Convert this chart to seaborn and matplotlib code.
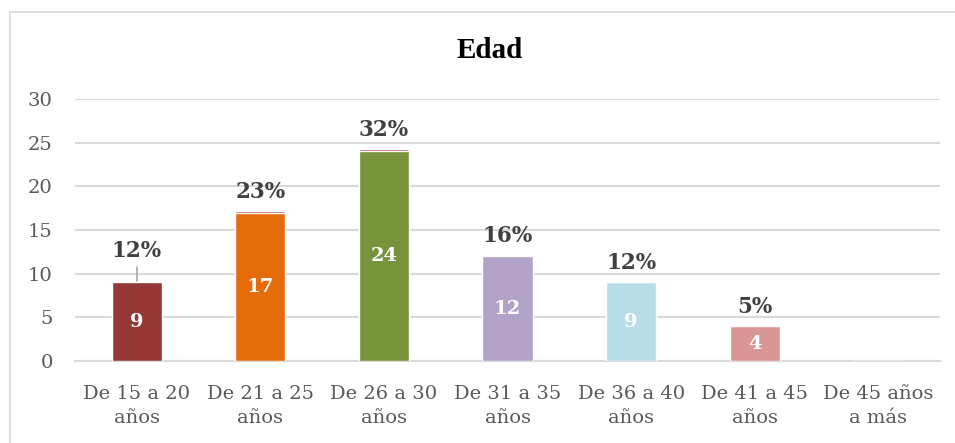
import matplotlib
matplotlib.use("Agg")
import matplotlib.pyplot as plt
from matplotlib.lines import Line2D
import seaborn as sns
import numpy as np
import pandas as pd

categories = ["De 15 a 20\naños", "De 21 a 25\naños", "De 26 a 30\naños", "De 31 a 35\naños",
              "De 36 a 40\naños", "De 41 a 45\naños", "De 45 años\na más"]
counts = [9, 17, 24, 12, 9, 4, 0]
percents = [0.12, 0.23, 0.32, 0.16, 0.12, 0.05, 0.0]
pct_labels = ["12%", "23%", "32%", "16%", "12%", "5%", ""]
bar_colors = ["#953735", "#E46C0A", "#77933C", "#B3A2C7", "#B7DEE8", "#D99694", "#4F81BD"]
yticks = [0, 5, 10, 15, 20, 25, 30]

sns.set_theme(style="white")
plt.rcParams["font.family"] = ["DejaVu Serif", "Liberation Serif"]

df = pd.DataFrame({"cat": categories, "count": counts, "pct": percents})
df["total"] = df["count"] + df["pct"]

fig = plt.figure(figsize=(9.55, 4.43), dpi=100)
ax = fig.add_axes([75/955, 1-361/443, (940-75)/955, (361-99)/443])

sns.barplot(data=df, x="cat", y="total", color="#C0504D", width=0.405, ax=ax,
            saturation=1, zorder=3)
sns.barplot(data=df, x="cat", y="count", hue="cat", palette=bar_colors, width=0.405,
            ax=ax, saturation=1, legend=False, zorder=3)

ax.set_ylim(0, 30)
ax.set_xlim(-0.5, len(categories)-0.5)
ax.set_yticks(yticks)
ax.set_yticklabels([str(v) for v in yticks])
ax.yaxis.grid(True, color="#D9D9D9", linewidth=1.5, zorder=0)
ax.set_axisbelow(True)
for s in ["top", "right", "left"]:
    ax.spines[s].set_visible(False)
ax.spines["bottom"].set_color("#D9D9D9")
ax.spines["bottom"].set_linewidth(1.5)
ax.tick_params(axis="both", length=0, colors="#595959", labelsize=14)
ax.tick_params(axis="y", pad=16)
ax.tick_params(axis="x", pad=17)
ax.set_xlabel("")
ax.set_ylabel("")
for lbl in ax.get_xticklabels():
    lbl.set_linespacing(1.45)

# inner count labels
for i, (c, p) in enumerate(zip(counts, percents)):
    if c > 0:
        ax.text(i, c/2, str(c), ha="center", va="center", color="white",
                fontsize=14, fontweight="bold", zorder=5)
# percent labels
for i, (c, p, lab) in enumerate(zip(counts, percents, pct_labels)):
    if not lab:
        continue
    top = c + p
    if i == 0:
        y = top + 3.5
        ax.plot([i, i], [top, top + 1.6], color="#A6A6A6", lw=1.2, zorder=4)
    else:
        y = top + 2.1
    ax.text(i, y, lab, ha="center", va="center", color="#404040",
            fontsize=15.5, fontweight="bold", zorder=5)

fig.text(490/955, 1-50/443, "Edad", ha="center", va="center", fontsize=21,
         fontweight="bold", color="black", family="Liberation Serif")

fig.add_artist(Line2D([9.5/955, 1], [1-11.5/443, 1-11.5/443], color="#D9D9D9", lw=1.2))
fig.add_artist(Line2D([9.5/955, 9.5/955], [0, 1-11.5/443], color="#D9D9D9", lw=1.2))

fig.savefig("out.png", dpi=100)
